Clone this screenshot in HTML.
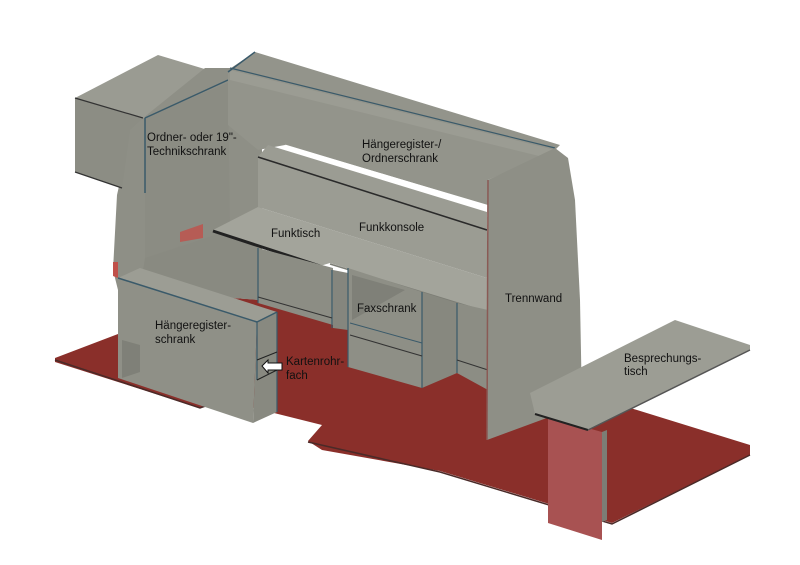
<!DOCTYPE html>
<html><head><meta charset="utf-8"><style>
html,body{margin:0;padding:0;background:#fff;}
svg{display:block}
text{font-family:"Liberation Sans","DejaVu Sans",sans-serif;font-size:11.5px;fill:#111;}
</style></head><body>
<svg width="800" height="565" viewBox="0 0 800 565" xmlns="http://www.w3.org/2000/svg">
<!-- floor -->
<polygon points="55,358 118,334 118,290 262,300 348,325 488,375 540,380 750,445 750,455 612,523 440,471 322,450 308,441 322,425 230,402 200,408 55,362" fill="#8a2f2a"/>
<polyline points="55,360 200,408 222,400" fill="none" stroke="#4a2a28" stroke-width="1.5"/>
<polyline points="308,442 440,472 612,524 750,455" fill="none" stroke="#4a2a28" stroke-width="1.5"/>
<!-- left side wall -->
<polygon points="143,118 170,98 205,70 228,70 255,52 262,150 262,300 118,290 113,270 117,195 122,173 128,128" fill="#8e8f86"/>
<polygon points="145,118 228,80 230,230 145,258" fill="#8b8c83"/>
<polygon points="145,258 230,230 258,240 258,300 140,290" fill="#898a81"/>
<!-- top left box -->
<polygon points="75,98 158,55 208,70 143,118" fill="#9a9b92"/>
<polygon points="143,118 205,68 232,68 230,82" fill="#8e8f86"/>
<polygon points="75,98 143,118 130,130 122,188 75,172" fill="#8c8d84"/>
<line x1="75" y1="98" x2="143" y2="118" stroke="#333" stroke-width="1.2"/>
<line x1="75" y1="172" x2="122" y2="188" stroke="#333" stroke-width="1.2"/>
<line x1="145" y1="118" x2="228" y2="80" stroke="#3a5a6a" stroke-width="1.5"/>
<line x1="145" y1="118" x2="145" y2="193" stroke="#3a5a6a" stroke-width="1.5"/>
<polygon points="180,232 203,224 203,238 180,242" fill="#c0504a" opacity="0.8"/>
<polygon points="113,262 118,262 118,278 113,276" fill="#c0504a"/>
<!-- upper back cabinet -->
<polygon points="228,72 255,52 560,145 555,150 488,180 488,205 285,145 258,150 228,125" fill="#93948b"/>
<polygon points="230,70 555,150 555,160 230,80" fill="#9b9c93"/>
<line x1="230" y1="68" x2="555" y2="148" stroke="#3a5a6a" stroke-width="1.2"/>
<line x1="228" y1="72" x2="255" y2="52" stroke="#3a5a6a" stroke-width="1.5"/>
<line x1="285" y1="146" x2="488" y2="207" stroke="#fff" stroke-width="3"/>
<!-- funkkonsole panel -->
<polygon points="258,157 268,145 487,212 487,278 258,207" fill="#9b9c93"/>
<line x1="258" y1="157" x2="487" y2="230" stroke="#2a2a2a" stroke-width="1.5"/>
<!-- desk top -->
<polygon points="213,230 258,207 487,278 487,312 330,263 320,266" fill="#a3a49b"/>
<line x1="213" y1="231" x2="320" y2="266" stroke="#222" stroke-width="3"/>
<line x1="330" y1="264" x2="487" y2="312" stroke="#7c7d75" stroke-width="1.5"/>
<!-- under desk -->
<polygon points="258,248 333,268 333,325 258,303" fill="#8c8d84"/>
<line x1="258" y1="248" x2="258" y2="303" stroke="#3a5a6a" stroke-width="1.2"/>
<line x1="332" y1="270" x2="332" y2="328" stroke="#3a5a6a" stroke-width="1.2"/>
<line x1="258" y1="297" x2="332" y2="318" stroke="#333" stroke-width="1"/>
<polygon points="333,270 348,273 348,330 333,328" fill="#85867e"/>
<!-- faxschrank -->
<polygon points="348,268 422,292 422,388 348,367" fill="#8e8f86"/>
<polygon points="352,275 405,290 352,320" fill="#7f8078"/>
<polygon points="422,292 457,303 457,373 422,388" fill="#87887f"/>
<polygon points="457,303 488,310 488,390 457,373" fill="#8c8d84"/>
<line x1="348" y1="268" x2="348" y2="367" stroke="#3a5a6a" stroke-width="1.2"/>
<line x1="422" y1="292" x2="422" y2="388" stroke="#3a5a6a" stroke-width="1.2"/>
<line x1="457" y1="303" x2="457" y2="373" stroke="#3a5a6a" stroke-width="1.2"/>
<line x1="350" y1="323" x2="422" y2="343" stroke="#3a5a6a" stroke-width="1"/>
<line x1="350" y1="335" x2="422" y2="356" stroke="#333" stroke-width="1"/>
<line x1="457" y1="360" x2="488" y2="370" stroke="#333" stroke-width="1"/>
<!-- haengeregisterschrank -->
<polygon points="118,278 140,268 277,312 257,322" fill="#9c9d94"/>
<polygon points="118,278 257,322 253,423 118,378" fill="#8f9087"/>
<polygon points="257,322 277,312 277,412 253,423" fill="#888980"/>
<polygon points="122,340 140,345 140,372 122,378" fill="#7f8078"/>
<line x1="118" y1="278" x2="257" y2="322" stroke="#3a5a6a" stroke-width="1.5"/>
<line x1="257" y1="322" x2="277" y2="312" stroke="#3a5a6a" stroke-width="1.5"/>
<line x1="257" y1="322" x2="257" y2="380" stroke="#3a5a6a" stroke-width="1.2"/>
<line x1="277" y1="312" x2="277" y2="412" stroke="#3a5a6a" stroke-width="1.2"/>
<line x1="257" y1="360" x2="277" y2="352" stroke="#222" stroke-width="1"/>
<line x1="257" y1="380" x2="277" y2="370" stroke="#222" stroke-width="1"/>
<polygon points="262,366 268,360 268,363 282,363 282,370 268,370 268,373" fill="#fff" stroke="#111" stroke-width="1"/>
<!-- Trennwand -->
<polygon points="488,180 555,148 568,158 575,200 580,300 582,405 487,440" fill="#8e8f86"/>
<line x1="488" y1="180" x2="487" y2="440" stroke="#8a5a55" stroke-width="1.5"/>
<!-- Besprechungstisch -->
<polygon points="548,417 602,432 602,540 548,523" fill="#a85252"/>
<polygon points="602,432 607,430 607,520 602,522" fill="#7c7d75"/>
<polygon points="530,393 675,320 750,345 750,350 588,430 535,414" fill="#9c9d94"/>
<line x1="535" y1="414" x2="588" y2="430" stroke="#222" stroke-width="2"/>
<line x1="588" y1="430" x2="750" y2="350" stroke="#555" stroke-width="1.5"/>
<!-- labels -->
<text x="147" y="141">Ordner- oder 19"-</text>
<text x="147" y="155">Technikschrank</text>
<text x="362" y="148">Hängeregister-/</text>
<text x="362" y="162">Ordnerschrank</text>
<text x="271" y="237">Funktisch</text>
<text x="359" y="231">Funkkonsole</text>
<text x="357" y="312">Faxschrank</text>
<text x="505" y="302">Trennwand</text>
<text x="155" y="329">Hängeregister-</text>
<text x="155" y="343">schrank</text>
<text x="286" y="365">Kartenrohr-</text>
<text x="286" y="379">fach</text>
<text x="624" y="362">Besprechungs-</text>
<text x="624" y="375">tisch</text>
</svg>
</body></html>
